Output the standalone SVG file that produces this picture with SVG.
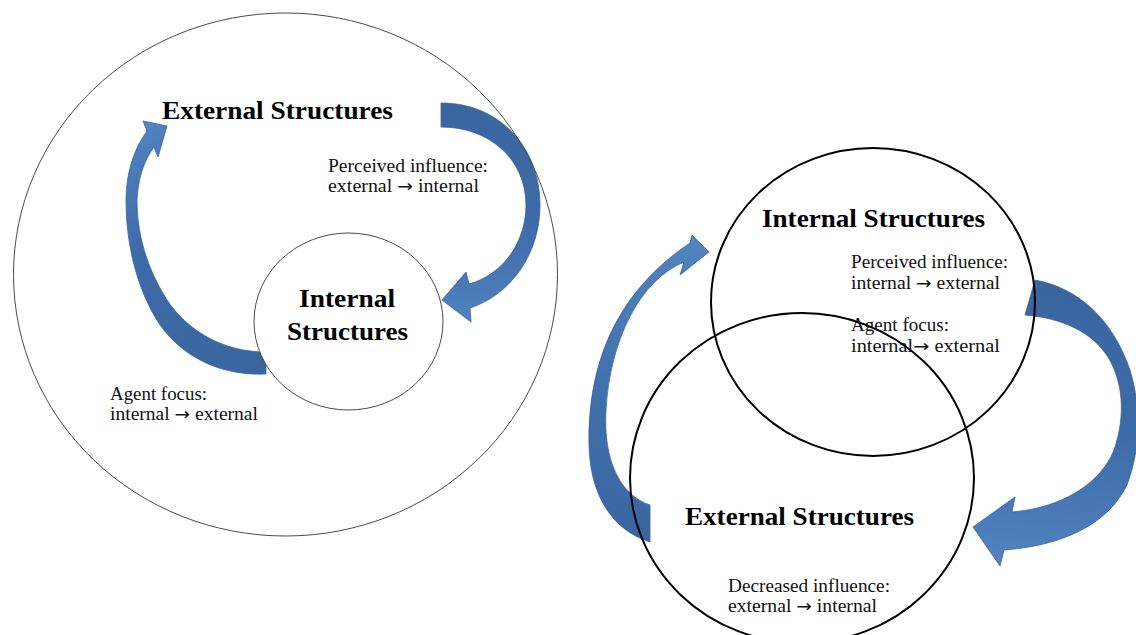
<svg xmlns="http://www.w3.org/2000/svg" width="1136" height="635" viewBox="0 0 1136 635">
<style>
.title{font-family:"Liberation Serif","Times New Roman",serif;font-weight:bold;font-size:25px;fill:#000}
.lbl{font-family:"Liberation Serif","Times New Roman",serif;font-size:18px;fill:#111}
.arr{font-family:"DejaVu Sans",sans-serif;font-size:17px}
.thin{fill:none;stroke:#4a4a4a;stroke-width:1}
.thick{fill:none;stroke:#000;stroke-width:2}
.arrow{stroke:#3a6399;stroke-width:0.8}
</style>
<defs>
<linearGradient id="gA" gradientUnits="userSpaceOnUse" x1="450" y1="110" x2="450" y2="320"><stop offset="0" stop-color="#3a66a0"/><stop offset="0.55" stop-color="#3e6ca8"/><stop offset="1" stop-color="#5083c0"/></linearGradient>
<linearGradient id="gB" gradientUnits="userSpaceOnUse" x1="260" y1="370" x2="150" y2="125"><stop offset="0" stop-color="#3a66a0"/><stop offset="0.6" stop-color="#3e6ca8"/><stop offset="1" stop-color="#5083c0"/></linearGradient>
<linearGradient id="gC" gradientUnits="userSpaceOnUse" x1="640" y1="540" x2="690" y2="240"><stop offset="0" stop-color="#3a66a0"/><stop offset="0.5" stop-color="#4172ad"/><stop offset="1" stop-color="#5083c0"/></linearGradient>
<linearGradient id="gD" gradientUnits="userSpaceOnUse" x1="1040" y1="290" x2="1000" y2="560"><stop offset="0" stop-color="#3a66a0"/><stop offset="0.5" stop-color="#3e6ca8"/><stop offset="1" stop-color="#5083c0"/></linearGradient>
</defs>
<rect width="1136" height="635" fill="#fff"/>
<g id="connectors">
<path id="arrowA" class="arrow" fill="url(#gA)" d="M441,103 C500,103 540,148 540,205 C540,255 510,295 470,308 L471,322 L442,300 L466,272 L469,284 C505,274 526,240 526,205 C526,160 490,127 441,127 Z"/>
<path id="arrowB" class="arrow" fill="url(#gB)" d="M266,352 C222,352 187,330 167,300 C147,268 137,235 137,200 C138,180 143,162 154,147 L158,157 L167,126 L143,121 L147,131 C133,150 126,175 126,200 C126,245 137,290 160,325 C185,360 225,376 266,374 Z"/>
<path id="arrowC" class="arrow" fill="url(#gC)" d="M650,542 C612,530 590,495 589,445 C588,380 605,300 690,243 L692,235 L709,252 L680,275 L684,262 C640,280 610,340 606,410 C603,460 620,495 650,505 Z"/>
<path id="arrowD" class="arrow" fill="url(#gD)" d="M1035,280 C1078,288 1112,318 1130,370 C1142,410 1140,450 1127,485 C1110,520 1070,545 1004,550 L1000,566 L973,527 L1015,497 L1012,512 C1060,508 1100,485 1114,450 C1126,415 1123,382 1108,357 C1092,332 1062,318 1025,315 Z"/>
</g>
<g id="left-external">
<ellipse class="thin" cx="285.5" cy="274.5" rx="272" ry="261.5"/>
<text class="title" x="162" y="119" textLength="231" lengthAdjust="spacingAndGlyphs">External Structures</text>
</g>
<g id="left-internal">
<ellipse class="thin" style="fill:#fff" cx="348.5" cy="321.5" rx="94.5" ry="88.5"/>
<text class="title" x="299" y="307" textLength="96" lengthAdjust="spacingAndGlyphs">Internal</text>
<text class="title" x="287" y="340" textLength="121" lengthAdjust="spacingAndGlyphs">Structures</text>
</g>
<g id="right-internal">
<ellipse class="thick" cx="873" cy="302" rx="162" ry="154"/>
<text class="title" x="762" y="227" textLength="223" lengthAdjust="spacingAndGlyphs">Internal Structures</text>
</g>
<g id="right-external">
<ellipse class="thick" cx="802" cy="478" rx="172" ry="165"/>
<text class="title" x="685" y="525" textLength="229" lengthAdjust="spacingAndGlyphs">External Structures</text>
</g>
<g id="labels">
<text class="lbl" x="328" y="172" textLength="160" lengthAdjust="spacingAndGlyphs">Perceived influence:</text>
<text class="lbl" x="328" y="192" textLength="151" lengthAdjust="spacingAndGlyphs">external <tspan class="arr">→</tspan> internal</text>
<text class="lbl" x="110" y="400" textLength="97" lengthAdjust="spacingAndGlyphs">Agent focus:</text>
<text class="lbl" x="110" y="420" textLength="148" lengthAdjust="spacingAndGlyphs">internal <tspan class="arr">→</tspan> external</text>
<text class="lbl" x="851" y="268" textLength="157" lengthAdjust="spacingAndGlyphs">Perceived influence:</text>
<text class="lbl" x="851" y="289" textLength="149" lengthAdjust="spacingAndGlyphs">internal <tspan class="arr">→</tspan> external</text>
<text class="lbl" x="851" y="331" textLength="98" lengthAdjust="spacingAndGlyphs">Agent focus:</text>
<text class="lbl" x="851" y="352" textLength="149" lengthAdjust="spacingAndGlyphs">internal<tspan class="arr">→</tspan> external</text>
<text class="lbl" x="728" y="592" textLength="162" lengthAdjust="spacingAndGlyphs">Decreased influence:</text>
<text class="lbl" x="728" y="612" textLength="149" lengthAdjust="spacingAndGlyphs">external <tspan class="arr">→</tspan> internal</text>
</g>
</svg>
